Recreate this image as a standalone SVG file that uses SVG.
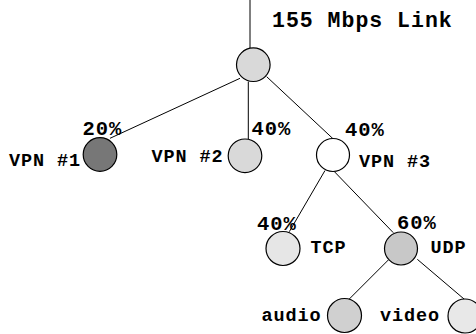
<svg xmlns="http://www.w3.org/2000/svg" width="476" height="334" viewBox="0 0 476 334">
<style>
.e{stroke:#000;stroke-width:1;fill:none}
.n{stroke:#000;stroke-width:1.2}
.t{font-family:"Liberation Mono","Courier New",monospace;font-weight:bold;fill:#000}
.l{font-size:18.5px;letter-spacing:0.9px}
.p{font-size:20.5px;letter-spacing:0.9px}
</style>
<rect width="476" height="334" fill="#fff"/>
<g id="connectors">
<line class="e" x1="250" y1="0" x2="250" y2="48"/>
<line class="e" x1="240" y1="78.3" x2="110" y2="138.3"/>
<line class="e" x1="248.3" y1="81.5" x2="248.3" y2="139"/>
<line class="e" x1="266.7" y1="76.7" x2="333.3" y2="139"/>
<line class="e" x1="325" y1="170.5" x2="289.3" y2="231.7"/>
<line class="e" x1="333.3" y1="170.5" x2="393.3" y2="232.7"/>
<line class="e" x1="388.3" y1="260" x2="348.3" y2="300"/>
<line class="e" x1="417.3" y1="259.3" x2="466" y2="300.7"/>
</g>
<g id="link-label"><text class="t" x="272" y="27" font-size="21.5" letter-spacing="1">155 Mbps Link</text></g>
<g id="root"><circle class="n" cx="253.3" cy="64.7" r="16.8" fill="#d9d9d9"/></g>
<g id="vpn1">
<circle class="n" cx="100" cy="154.5" r="16.8" fill="#777"/>
<text class="t p" x="82.5" y="135">20%</text>
<text class="t l" x="9" y="165.5">VPN #1</text>
</g>
<g id="vpn2">
<circle class="n" cx="245" cy="155.8" r="16.8" fill="#d9d9d9"/>
<text class="t p" x="251.5" y="135">40%</text>
<text class="t l" x="151.5" y="161.5">VPN #2</text>
</g>
<g id="vpn3">
<circle class="n" cx="333" cy="155" r="16.5" fill="#fff"/>
<text class="t p" x="345" y="135.5">40%</text>
<text class="t l" x="359" y="166.5">VPN #3</text>
</g>
<g id="tcp">
<circle class="n" cx="283" cy="248.5" r="17" fill="#e6e6e6"/>
<text class="t p" x="257" y="229.5">40%</text>
<text class="t l" x="310.5" y="253">TCP</text>
</g>
<g id="udp">
<circle class="n" cx="401" cy="248.5" r="16.5" fill="#c8c8c8"/>
<text class="t p" x="397" y="229">60%</text>
<text class="t l" x="430.5" y="252.5">UDP</text>
</g>
<g id="audio">
<circle class="n" cx="344.5" cy="315.5" r="17" fill="#d0d0d0"/>
<text class="t l" x="261.5" y="321">audio</text>
</g>
<g id="video">
<circle class="n" cx="465" cy="316" r="17" fill="#e8e8e8"/>
<text class="t l" x="380" y="321">video</text>
</g>
</svg>
